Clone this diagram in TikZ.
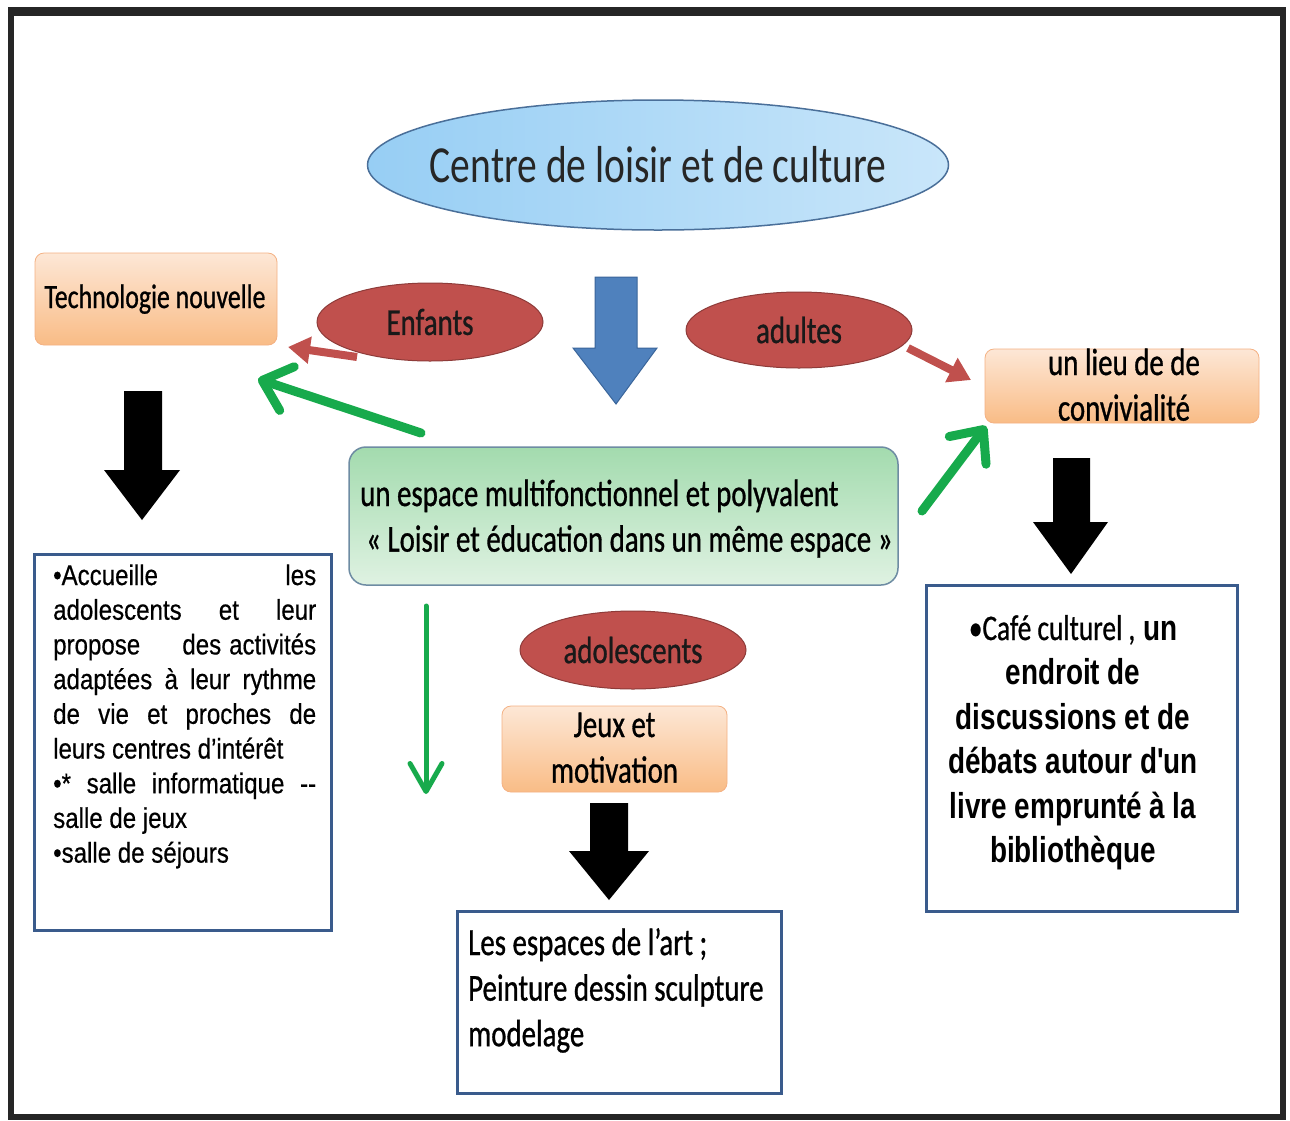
\documentclass[tikz,border=0pt]{standalone}
\usepackage{fontspec}
\setmainfont{Carlito}
\newfontfamily\calfont[FakeStretch=0.76,FakeBold=0.8]{Carlito}
\newfontfamily\ttlfont[FakeStretch=0.76]{Carlito}
\newfontfamily\arnfont[FakeStretch=0.845,FakeBold=0.5]{Liberation Sans}
\newfontfamily\arbfont[FakeStretch=0.775,UprightFont={Liberation Sans Bold}]{Liberation Sans}
\usetikzlibrary{shapes.geometric,arrows.meta}
\definecolor{framec}{HTML}{262626}
\definecolor{bluefill}{HTML}{4F81BD}
\definecolor{blueline}{HTML}{3A659A}
\definecolor{redfill}{HTML}{C0504D}
\definecolor{redline}{HTML}{8E3B39}
\definecolor{peachtop}{HTML}{FDE7D6}
\definecolor{peachbot}{HTML}{F9BC86}
\definecolor{peachline}{HTML}{F4B183}
\definecolor{greentop}{HTML}{A3DBAE}
\definecolor{greenbot}{HTML}{DFF2E2}
\definecolor{greenline}{HTML}{6E8CA3}
\definecolor{arrgreen}{HTML}{17AA4C}
\definecolor{boxline}{HTML}{3A5B8C}
\definecolor{skyleft}{HTML}{97CEF4}
\definecolor{skyright}{HTML}{C9E6FA}
\definecolor{skyline}{HTML}{4A6F99}
\newcommand{\jline}[1]{\makebox[263pt][s]{#1}\par}
\newcommand{\lline}[1]{\makebox[263pt][l]{#1}\par}
\begin{document}
\begin{tikzpicture}[x=1pt,y=-1pt,
  oval/.style={ellipse, draw=redline, line width=1pt, fill=redfill, inner sep=0pt,
    minimum width=226pt, minimum height=78pt, font=\calfont\fontsize{38}{45.6}\selectfont, text=black!90},
  peach/.style={rectangle, rounded corners=9pt, draw=peachline, line width=0.8pt,
    top color=peachtop, bottom color=peachbot, inner sep=0pt},
  textbox/.style={rectangle, draw=boxline, line width=3pt, fill=white, inner sep=0pt},
  caltext/.style={font=\calfont\fontsize{38}{45.6}\selectfont, inner sep=0pt, text=black},
  blockarrow/.style={fill=black},
  redarrow/.style={draw=redfill, line width=8pt, -{Triangle[length=22pt,width=26pt]}},
  greenarrow/.style={draw=arrgreen, line width=9pt, line cap=round,
    -{Straight Barb[length=26pt,width=46pt,round]}},
  thingreen/.style={draw=arrgreen, line width=5pt, line cap=round,
    -{Straight Barb[length=28pt,width=32pt,round]}}
]
\useasboundingbox (0,0) rectangle (1290,1120);
\fill[white] (0,0) rectangle (1290,1120);
\draw[framec, line width=6pt] (11,12) rectangle (1283,1117);
\fill[framec] (8,7) rectangle (1286,16);

% title
\node[ellipse, draw=skyline, line width=1.5pt, left color=skyleft, right color=skyright,
  minimum width=581pt, minimum height=130pt, inner sep=0pt,
  font=\ttlfont\fontsize{52}{60}\selectfont, text=black!85] (title) at (658,165) {\makebox[0pt][c]{Centre de loisir et de culture}};

% blue arrow
\filldraw[fill=bluefill, draw=blueline, line width=1pt]
  (595,277) -- (637,277) -- (637,348) -- (657,348) -- (616,404) -- (573,348) -- (595,348) -- cycle;

% peach boxes
\node[peach, minimum width=242pt, minimum height=92pt] (tech) at (156,299) {};
\node[caltext, font=\calfont\fontsize{34}{40}\selectfont, anchor=base] (techtxt) at (155,308) {Technologie nouvelle};

\node[peach, minimum width=274pt, minimum height=74pt] (lieu) at (1122,386) {};
\node[caltext, anchor=base] (lieutxt) at (1124,375) {\parbox[t]{260pt}{\centering un lieu de de\\convivialité}};

\node[peach, minimum width=225pt, minimum height=86pt] (jeux) at (614.5,749) {};
\node[caltext, anchor=base] (jeuxtxt) at (614.5,737) {\parbox[t]{220pt}{\centering Jeux et\\motivation}};

% ovals
\node[oval] (enf) at (430,322) {Enfants};
\node[oval, minimum height=76pt] (adu) at (799,330) {adultes};
\node[oval] (ado) at (633,650) {adolescents};

% green box
\node[rectangle, rounded corners=17pt, draw=greenline, line width=1.5pt,
  top color=greentop, bottom color=greenbot, minimum width=549pt, minimum height=138pt] (esp) at (623.5,516) {};
\node[caltext, anchor=base west] (esptxt) at (360,506) {\parbox[t]{540pt}{un espace multifonctionnel et polyvalent\\\hspace*{6pt}« Loisir et éducation dans un même espace »}};

% red arrows
\coordinate (r1s) at (357,357);
\coordinate (r1e) at (288,347);
\draw[redarrow] (r1s) -- (r1e);
\coordinate (r2s) at (908,348);
\coordinate (r2e) at (971,380);
\draw[redarrow] (r2s) -- (r2e);

% green arrows
\coordinate (g1s) at (421,433);
\coordinate (g1e) at (258,379);
\draw[greenarrow] (g1s) -- (g1e);
\coordinate (g2s) at (922,511);
\coordinate (g2e) at (986,426);
\draw[greenarrow] (g2s) -- (g2e);
\coordinate (g3s) at (426,606);
\coordinate (g3e) at (426,794);
\draw[thingreen] (g3s) -- (g3e);

% black block arrows
\fill[blockarrow] (124,391) -- (162,391) -- (162,470) -- (180,470) -- (142,520) -- (104,470) -- (124,470) -- cycle;
\fill[blockarrow] (1053,458) -- (1090,458) -- (1090,522) -- (1108,522) -- (1071,574) -- (1033,522) -- (1053,522) -- cycle;
\fill[blockarrow] (590,803) -- (628,803) -- (628,851) -- (649,851) -- (609,900) -- (569,851) -- (590,851) -- cycle;

% left text box
\node[textbox, minimum width=297pt, minimum height=376pt] (lbox) at (182.5,742) {};
\node[anchor=base west, inner sep=0pt, font=\arnfont\fontsize{28.5}{34.7}\selectfont] (ltxt) at (53,585)
 {\parbox[t]{263pt}{%
  \jline{•Accueille les}%
  \jline{adolescents et leur}%
  \jline{propose\hspace{1.2em} des activités}%
  \jline{adaptées à leur rythme}%
  \jline{de vie et proches de}%
  \lline{leurs centres d’intérêt}%
  \jline{•* salle informatique -{}-}%
  \lline{salle de jeux}%
  \lline{•salle de séjours}}};

% right text box
\node[textbox, minimum width=311pt, minimum height=326pt] (rbox) at (1081.5,748) {};
\node[anchor=base, inner sep=0pt, font=\arbfont\fontsize{36}{44.5}\selectfont] (rtxt) at (1073,640)
 {\parbox[t]{305pt}{\centering {\calfont\fontsize{36}{44.5}\selectfont •Café culturel ,} un\\endroit de\\discussions et de\\débats autour d'un\\livre emprunté à la\\bibliothèque}};

% bottom text box
\node[textbox, minimum width=324pt, minimum height=182pt] (bbox) at (619,1002) {};
\node[caltext, anchor=base west] (btxt) at (468,955) {\parbox[t]{310pt}{Les espaces de l’art ;\\Peinture dessin sculpture\\modelage}};
\end{tikzpicture}
\end{document}
